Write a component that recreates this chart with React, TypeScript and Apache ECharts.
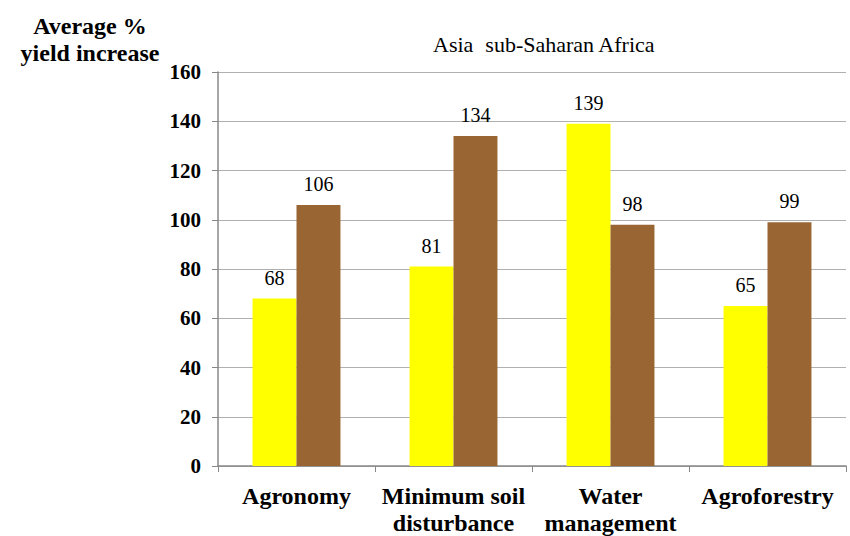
import React, { useEffect, useRef } from "react";
import * as echarts from "echarts";

const categories = ["Agronomy", "Minimum soil\ndisturbance", "Water\nmanagement", "Agroforestry"];
const asiaValues = [68, 81, 139, 65];
const africaValues = [106, 134, 98, 99];
const seriesNames = ["Asia", "sub-Saharan Africa"];

const FONT = "Liberation Serif";

export default function App() {
  const ref = useRef<HTMLDivElement>(null);
  useEffect(() => {
    if (!ref.current) return;
    const chart = echarts.init(ref.current, null, { renderer: "svg" });
    chart.setOption({
      animation: false,
      textStyle: { fontFamily: FONT },
      title: {
        text: "Average %\nyield increase",
        left: 85,
        top: 7,
        textAlign: "center",
        textStyle: { fontFamily: FONT, fontSize: 24, fontWeight: "bold", color: "#000", lineHeight: 27 },
      },
      legend: {
        data: seriesNames,
        top: 28,
        left: 428,
        itemWidth: 0,
        itemHeight: 0,
        itemGap: 12,
        icon: "rect",
        textStyle: { fontFamily: FONT, fontSize: 22, color: "#000", padding: [0, 0, 0, -5] },
      },
      grid: { left: 218, right: 4, top: 72, bottom: 69, containLabel: false },
      xAxis: {
        type: "category",
        data: categories,
        axisLine: { lineStyle: { color: "#888", width: 1.5 } },
        axisTick: { show: true, length: 6, lineStyle: { color: "#888" } },
        axisLabel: {
          fontFamily: FONT,
          fontSize: 24,
          fontWeight: "bold",
          color: "#000",
          margin: 16,
          lineHeight: 27,
          interval: 0,
        },
      },
      yAxis: {
        type: "value",
        min: 0,
        max: 160,
        interval: 20,
        axisLine: { show: true, lineStyle: { color: "#888", width: 1.5 } },
        axisTick: { show: true, length: 6, lineStyle: { color: "#888" } },
        splitLine: { show: true, lineStyle: { color: "#b0b0b0", width: 1.2 } },
        axisLabel: { fontFamily: FONT, fontSize: 21, fontWeight: "bold", color: "#000", margin: 17 },
      },
      series: [
        {
          name: seriesNames[0],
          type: "bar",
          data: asiaValues,
          itemStyle: { color: "#FFFF00" },
          barGap: "0%",
          barCategoryGap: "44%",
          label: { show: true, position: "top", fontFamily: FONT, fontSize: 20, color: "#000", distance: 11 },
        },
        {
          name: seriesNames[1],
          type: "bar",
          data: africaValues,
          itemStyle: { color: "#996633" },
          barGap: "0%",
          barCategoryGap: "44%",
          label: { show: true, position: "top", fontFamily: FONT, fontSize: 20, color: "#000", distance: 11 },
        },
      ],
    });
    return () => chart.dispose();
  }, []);
  return <div ref={ref} style={{ width: 850, height: 536, position: "absolute", left: 0, top: 0 }} />;
}
